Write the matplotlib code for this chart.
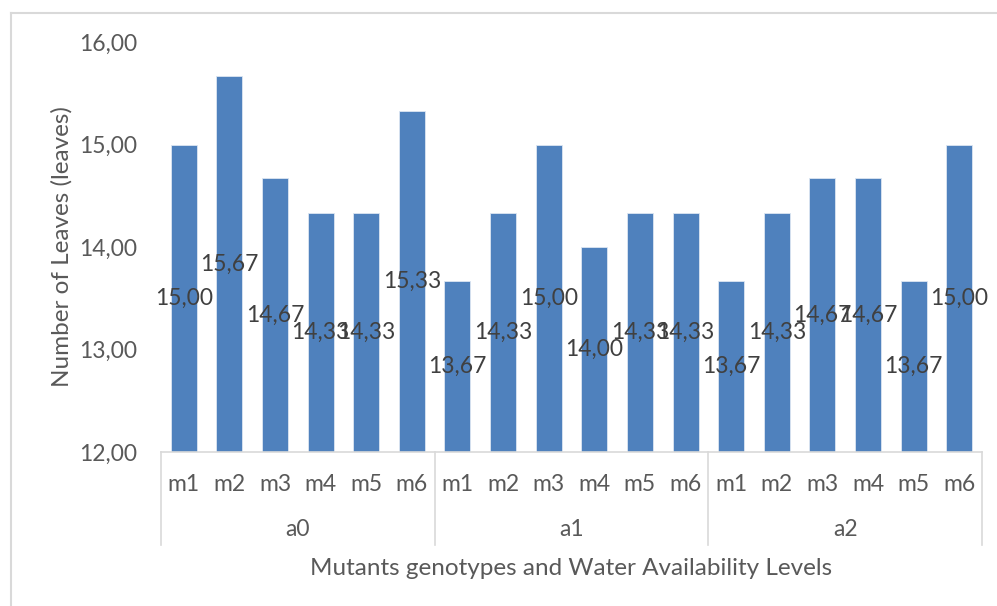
import matplotlib.pyplot as plt
from matplotlib.lines import Line2D
import numpy as np

plt.rcParams["font.family"] = ["Lato", "DejaVu Sans"]

groups = ["a0", "a1", "a2"]
mutants = ["m1", "m2", "m3", "m4", "m5", "m6"]
leaves_a0 = [15.00, 15.67, 14.67, 14.33, 14.33, 15.33]
leaves_a1 = [13.67, 14.33, 15.00, 14.00, 14.33, 14.33]
leaves_a2 = [13.67, 14.33, 14.67, 14.67, 13.67, 15.00]

values = np.array(leaves_a0 + leaves_a1 + leaves_a2)
tick_labels = mutants * len(groups)
x = np.arange(len(values))

bar_color = "#4f81bd"
axis_color = "#d9d9d9"
tick_color = "#595959"
label_color = "#404040"


def fmt(v):
    return f"{v:.2f}".replace(".", ",")


fig = plt.figure(figsize=(9.97, 6.06), dpi=100)
ax = fig.add_axes([161 / 997, 1 - 452 / 606, 821 / 997, 410 / 606])

ax.bar(x, values - 12, bottom=12, width=0.57, color=bar_color,
       edgecolor="#dce6f2", linewidth=0.6)

ax.set_ylim(12, 16)
ax.set_xlim(-0.5, len(values) - 0.5)
ax.set_yticks(np.arange(12, 16.5, 1))
ax.set_yticklabels([fmt(v) for v in np.arange(12, 16.5, 1)])
ax.set_xticks(x)
ax.set_xticklabels(tick_labels)
ax.tick_params(axis="both", length=0, labelsize=16.5, labelcolor=tick_color)
ax.tick_params(axis="x", pad=16)
ax.tick_params(axis="y", pad=17)

for side in ["top", "right", "left"]:
    ax.spines[side].set_visible(False)
ax.spines["bottom"].set_color(axis_color)
ax.spines["bottom"].set_linewidth(1.2)

# data labels centred inside each bar
for xi, v in zip(x, values):
    ax.text(xi, (12 + v) / 2, fmt(v), ha="center", va="center",
            fontsize=16.5, color=label_color)

# group separators and group labels
n = len(mutants)
for k in range(len(groups) + 1):
    ax.plot([k * n - 0.5, k * n - 0.5], [0, -0.228], color=axis_color, lw=1.2,
            transform=ax.get_xaxis_transform(), clip_on=False)
for k, g in enumerate(groups):
    ax.text(k * n + (n - 1) / 2, -0.19, g, ha="center", va="center",
            fontsize=16.5, color=tick_color, transform=ax.get_xaxis_transform())

ax.set_xlabel("Mutants genotypes and Water Availability Levels",
              fontsize=17.5, color=tick_color, labelpad=0)
ax.xaxis.set_label_coords(0.5, -0.283)
ax.xaxis.label.set_va("center")
ax.set_ylabel("Number of Leaves (leaves)", fontsize=17.5, color=tick_color)
ax.yaxis.set_label_coords((62 - 161) / 821, 0.5)
ax.yaxis.label.set_va("center")

# chart area border (left and top visible)
fig.add_artist(Line2D([10.5 / 997, 10.5 / 997], [0, 1 - 13 / 606],
                      color=axis_color, lw=1.5, transform=fig.transFigure))
fig.add_artist(Line2D([10.5 / 997, 1], [1 - 13 / 606, 1 - 13 / 606],
                      color=axis_color, lw=1.5, transform=fig.transFigure))

fig.savefig("out.png", dpi=100)
